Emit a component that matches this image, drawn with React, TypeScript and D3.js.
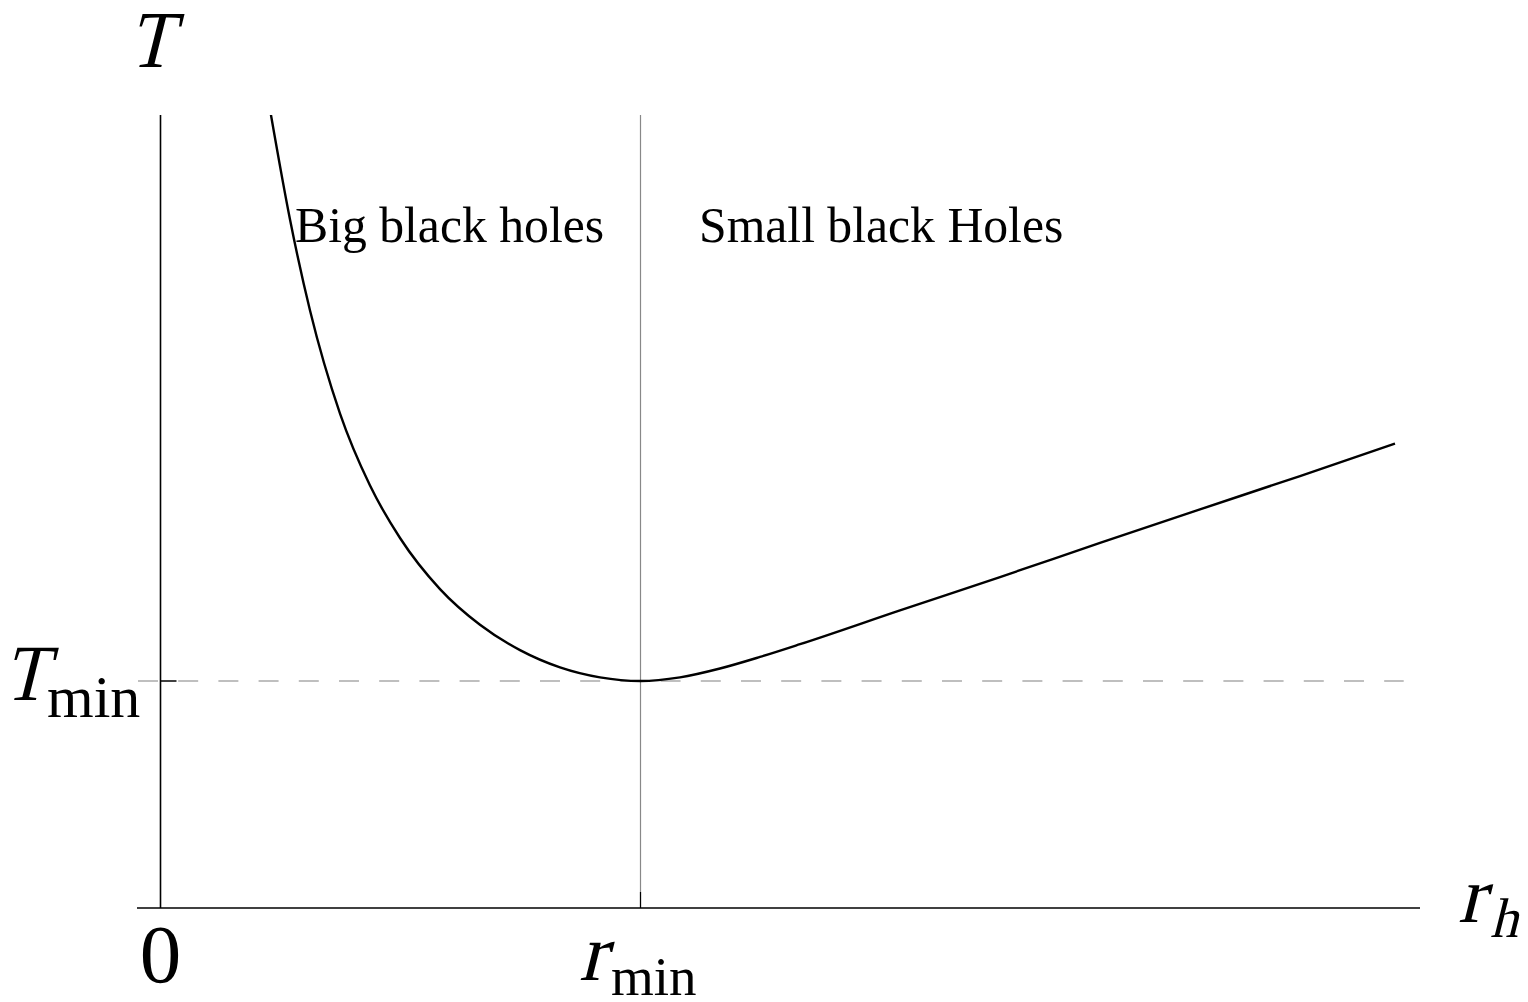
import * as d3 from 'd3';

// horizon radius (in units of r_min) and temperature (in units of T_min)
const rValues = [
  0.2296, 0.2698, 0.3115, 0.374, 0.4365, 0.499, 0.5823, 0.6656, 0.749, 0.8323, 0.9156,
  1, 1.0823, 1.1656, 1.249, 1.3323, 1.5406, 1.749, 1.9573, 2.1656, 2.374, 2.5719,
];
const tValues = [
  3.5, 3.033, 2.632, 2.178, 1.861, 1.63, 1.405, 1.248, 1.136, 1.06, 1.016,
  1, 1.016, 1.055, 1.106, 1.162, 1.311, 1.458, 1.608, 1.756, 1.903, 2.046,
];

const rDomain = [-0.049, 2.624];
const tTop = 3.493;
const rMin = 1;
const tMin = 1;
const regionLabels = ['Big black holes', 'Small black Holes'];

const serif = '"Liberation Serif", "Times New Roman", serif';

// slanted upright serif, the italic face is not reliable here
function Italic({
  x,
  y,
  size,
  sx = 1,
  children,
}: {
  x: number;
  y: number;
  size: number;
  sx?: number;
  children: string;
}) {
  return (
    <text transform={`translate(${x},${y}) skewX(-14) scale(${sx},1)`} fontSize={size}>
      {children}
    </text>
  );
}

export default function App() {
  const width = 1528;
  const height = 1002;

  // 0 and r_min / T_min pinned to their pixel spots.
  const x = d3.scaleLinear().domain([0, 1]).range([160.5, 640.5]);
  const y = d3.scaleLinear().domain([0, 1]).range([908, 681]);

  const points = rValues.map((r, i) => [r, tValues[i]] as [number, number]);
  const line = d3
    .line<[number, number]>()
    .x((d) => x(d[0]))
    .y((d) => y(d[1]))
    .curve(d3.curveMonotoneX);

  return (
    <svg
      width={width}
      height={height}
      style={{ position: 'absolute', left: 0, top: 0, background: '#fff' }}
      fontFamily={serif}
    >
      <defs>
        <clipPath id='plot'>
          <rect x={0} y={y(tTop)} width={width} height={height} />
        </clipPath>
      </defs>
      {/* dashed T_min guide */}
      <line
        x1={x(rDomain[0]) + 1}
        x2={x(2.59)}
        y1={y(tMin)}
        y2={y(tMin)}
        stroke='#aaa'
        strokeWidth={1.5}
        strokeDasharray='20 20.2'
      />
      {/* r_min vertical */}
      <line x1={x(rMin)} x2={x(rMin)} y1={y(tTop)} y2={y(0)} stroke='#888' strokeWidth={1.2} />
      <line x1={x(rMin)} x2={x(rMin)} y1={y(0) - 16} y2={y(0)} stroke='#000' strokeWidth={1.2} />
      {/* axes */}
      <line x1={x(rDomain[0])} x2={x(rDomain[1])} y1={y(0)} y2={y(0)} stroke='#000' strokeWidth={1.6} />
      <line x1={x(0)} x2={x(0)} y1={y(tTop)} y2={y(0)} stroke='#000' strokeWidth={1.6} />
      <line x1={x(0)} x2={x(0) + 16} y1={y(tMin)} y2={y(tMin)} stroke='#000' strokeWidth={1.5} />

      <path
        d={line(points) ?? ''}
        fill='none'
        stroke='#000'
        strokeWidth={2.4}
        clipPath='url(#plot)'
      />

      {/* region labels */}
      <text x={295} y={242} fontSize={49.7}>
        {regionLabels[0]}
      </text>
      <text x={699} y={242} fontSize={49.7}>
        {regionLabels[1]}
      </text>

      {/* axis labels */}
      <Italic x={128} y={67} size={81} sx={0.9}>
        T
      </Italic>
      <Italic x={1458} y={922} size={80}>
        r
      </Italic>
      <Italic x={1490} y={937} size={56}>
        h
      </Italic>
      <text x={x(0)} y={982} fontSize={83} textAnchor='middle'>
        0
      </text>
      <Italic x={579} y={980} size={81}>
        r
      </Italic>
      <text x={611} y={995} fontSize={55}>
        min
      </text>
      <Italic x={3} y={700} size={80} sx={0.9}>
        T
      </Italic>
      <text x={47} y={717} fontSize={60}>
        min
      </text>
    </svg>
  );
}
